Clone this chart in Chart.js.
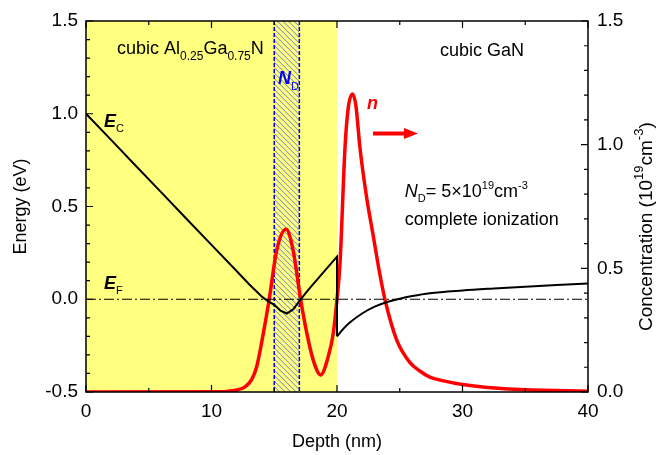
<!DOCTYPE html>
<html>
<head>
<meta charset="utf-8">
<script src="https://cdn.jsdelivr.net/npm/chart.js@4.4.1/dist/chart.umd.min.js"></script>
<style>
  html, body { margin: 0; padding: 0; background: #fff; }
  #wrap { width: 662px; height: 455px; }
</style>
</head>
<body>
<div id="wrap"><canvas id="chart"></canvas></div>
<script>
// conduction band edge E_C (eV) vs depth (nm), AlGaN side incl. the step at 20 nm
const ecDepthAlloy = [0, 2, 4, 6, 8, 10, 12, 13, 14, 14.5, 15, 15.5, 16, 16.5, 17, 17.5, 18, 19, 20, 20];
const ecEnergyAlloy = [1.0, 0.859, 0.717, 0.576, 0.434, 0.293, 0.152, 0.081, 0.015, -0.01, -0.03, -0.062, -0.077, -0.055, -0.01, 0.033, 0.074, 0.152, 0.23, -0.2];
// E_C in the GaN layer
const ecDepthGaN = [20, 20.5, 21, 22, 23, 24, 25, 26, 27.4, 30, 32.5, 35, 37.5, 40];
const ecEnergyGaN = [-0.2, -0.16, -0.127, -0.077, -0.04, -0.015, 0.003, 0.017, 0.032, 0.047, 0.058, 0.068, 0.077, 0.085];
// Fermi level
const efDepth = [0, 40];
const efEnergy = [0, 0];
// electron concentration n (1e19 cm^-3)
const nDepth = [0, 11, 11.5, 12, 12.67, 13.2, 13.6, 14.13, 14.6, 15.2, 15.94, 16.5, 17.1, 17.6, 18.1, 18.7, 19.3, 19.7, 20.0, 20.24, 20.64, 20.9, 21.24, 21.5, 21.82, 22.35, 22.9, 23.4, 23.83, 24.76, 25.8, 26.6, 27.4, 28.5, 30, 32, 35, 40];
const nConc = [0, 0.001, 0.004, 0.008, 0.021, 0.05, 0.102, 0.237, 0.375, 0.574, 0.658, 0.574, 0.375, 0.237, 0.13, 0.069, 0.143, 0.237, 0.375, 0.52, 0.99, 1.15, 1.205, 1.16, 0.992, 0.79, 0.628, 0.48, 0.372, 0.21, 0.12, 0.085, 0.06, 0.045, 0.03, 0.018, 0.009, 0.003];
// layers
const alloyRegion = [0, 20];
const donorRegion = [15, 17];
// ticks
const depthTicks = [0, 10, 20, 30, 40];
const energyTicks = [-0.5, 0.0, 0.5, 1.0, 1.5];
const concTicks = [0.0, 0.5, 1.0, 1.5];

const FONT = 'Arial, "Liberation Sans", sans-serif';
Chart.defaults.font.family = FONT;
Chart.defaults.color = '#000';

const pts = (xs, ys) => xs.map((v, i) => ({ x: v, y: ys[i] }));

// draws text made of parts (normal / sub / sup)
function richText(ctx, x, y, parts) {
    let cx = x;
    parts.forEach(p => {
        const size = p.size || 18;
        ctx.font = (p.style || '') + ' ' + size + 'px ' + FONT;
        ctx.fillStyle = p.color || '#000';
        const dy = p.shift || 0;
        ctx.fillText(p.t, cx, y + dy);
        cx += ctx.measureText(p.t).width;
    });
    return cx - x;
}

const decor = {
    id: 'decor',
    beforeDatasetsDraw(chart) {
        const { ctx, chartArea: a, scales: { x } } = chart;
        ctx.save();
        // yellow AlGaN layer
        const ax0 = x.getPixelForValue(alloyRegion[0]), ax1 = x.getPixelForValue(alloyRegion[1]);
        ctx.fillStyle = '#ffff80';
        ctx.fillRect(ax0, a.top, ax1 - ax0, a.bottom - a.top);
        // hatched donor layer
        const dx0 = x.getPixelForValue(donorRegion[0]), dx1 = x.getPixelForValue(donorRegion[1]);
        const h = a.bottom - a.top;
        ctx.save();
        ctx.beginPath();
        ctx.rect(dx0, a.top, dx1 - dx0, h);
        ctx.clip();
        ctx.strokeStyle = '#5a6fcc';
        ctx.lineWidth = 0.9;
        ctx.beginPath();
        for (let i = -h; i < dx1 - dx0 + 10; i += 5.5) {
            ctx.moveTo(dx0 + i, a.top);
            ctx.lineTo(dx0 + i + h, a.bottom);
        }
        ctx.stroke();
        ctx.restore();
        ctx.strokeStyle = '#0000ff';
        ctx.lineWidth = 1.5;
        ctx.setLineDash([4, 2]);
        ctx.beginPath();
        ctx.moveTo(dx0, a.top); ctx.lineTo(dx0, a.bottom);
        ctx.moveTo(dx1, a.top); ctx.lineTo(dx1, a.bottom);
        ctx.stroke();
        ctx.restore();
    },
    afterDatasetsDraw(chart) {
        const { ctx, chartArea: a, scales: { x, y, y2 } } = chart;
        ctx.save();
        // frame
        ctx.strokeStyle = '#000';
        ctx.lineWidth = 1.5;
        ctx.strokeRect(a.left, a.top, a.right - a.left, a.bottom - a.top);
        // inward ticks
        ctx.lineWidth = 1.2;
        ctx.beginPath();
        for (let v = 0; v <= 40; v += 5) {
            const px = x.getPixelForValue(v);
            const len = v % 10 === 0 ? 7 : 4;
            ctx.moveTo(px, a.bottom); ctx.lineTo(px, a.bottom - len);
            ctx.moveTo(px, a.top); ctx.lineTo(px, a.top + len);
        }
        for (let i = 0; i <= 20; i++) {
            const py = y.getPixelForValue(-0.5 + i * 0.1);
            const len = i % 5 === 0 ? 7 : 4;
            ctx.moveTo(a.left, py); ctx.lineTo(a.left + len, py);
        }
        for (let i = 0; i <= 15; i++) {
            const py = y2.getPixelForValue(i * 0.1);
            const len = i % 5 === 0 ? 7 : 4;
            ctx.moveTo(a.right, py); ctx.lineTo(a.right - len, py);
        }
        ctx.stroke();

        const X = v => x.getPixelForValue(v), Y = v => y.getPixelForValue(v);
        ctx.textBaseline = 'alphabetic';
        ctx.textAlign = 'left';
        richText(ctx, X(2.47), Y(1.32), [
            { t: 'cubic Al' }, { t: '0.25', size: 12, shift: 6 }, { t: 'Ga' }, { t: '0.75', size: 12, shift: 6 }, { t: 'N' }
        ]);
        richText(ctx, X(15.3), Y(1.158), [
            { t: 'N', style: 'italic bold', color: '#0000ff' }, { t: 'D', size: 11, shift: 6, color: '#0000ff' }
        ]);
        richText(ctx, X(1.43), Y(0.93), [
            { t: 'E', style: 'italic bold' }, { t: 'C', size: 11, shift: 5 }
        ]);
        richText(ctx, X(1.43), Y(0.053), [
            { t: 'E', style: 'italic bold' }, { t: 'F', size: 11, shift: 5 }
        ]);
        richText(ctx, X(22.4), Y(1.023), [{ t: 'n', style: 'italic bold', color: '#ff0000' }]);
        richText(ctx, X(28.2), Y(1.31), [{ t: 'cubic GaN' }]);
        richText(ctx, X(25.4), Y(0.549), [
            { t: 'N', style: 'italic' }, { t: 'D', size: 11, shift: 5 }, { t: '= 5\u00d710' },
            { t: '19', size: 11, shift: -8 }, { t: 'cm' }, { t: '-3', size: 11, shift: -8 }
        ]);
        richText(ctx, X(25.4), Y(0.398), [{ t: 'complete ionization' }]);

        // red arrow pointing to the right axis
        const ax0 = X(22.87), ax1 = X(26.45), ay = Y(0.894);
        ctx.strokeStyle = '#ff0000';
        ctx.fillStyle = '#ff0000';
        ctx.lineWidth = 4;
        ctx.beginPath();
        ctx.moveTo(ax0, ay); ctx.lineTo(ax1 - 10, ay);
        ctx.stroke();
        ctx.beginPath();
        ctx.moveTo(ax1, ay); ctx.lineTo(ax1 - 14, ay - 5.5); ctx.lineTo(ax1 - 14, ay + 5.5);
        ctx.closePath();
        ctx.fill();
        ctx.restore();
    },
    afterDraw(chart) {
        const { ctx } = chart;
        // right axis title, reading bottom to top, starting near y = 330
        ctx.save();
        ctx.translate(647, 331);
        ctx.rotate(-Math.PI / 2);
        ctx.textBaseline = 'middle';
        richText(ctx, 0, 0, [
            { t: 'Concentration (10', size: 19 }, { t: '19', size: 13, shift: -8 }, { t: 'cm', size: 19 },
            { t: '-3', size: 13, shift: -8 }, { t: ')', size: 19 }
        ]);
        ctx.restore();
    }
};

new Chart(document.getElementById('chart'), {
    type: 'line',
    data: {
        datasets: [
            {
                label: 'Ec AlGaN', data: pts(ecDepthAlloy, ecEnergyAlloy), yAxisID: 'y',
                borderColor: '#000', borderWidth: 2, pointRadius: 0, tension: 0
            },
            {
                label: 'Ec GaN', data: pts(ecDepthGaN, ecEnergyGaN), yAxisID: 'y',
                borderColor: '#000', borderWidth: 2, pointRadius: 0, cubicInterpolationMode: 'monotone'
            },
            {
                label: 'EF', data: pts(efDepth, efEnergy), yAxisID: 'y',
                borderColor: '#000', borderWidth: 1.2, borderDash: [10, 3, 2, 3], pointRadius: 0
            },
            {
                label: 'n', data: pts(nDepth, nConc), yAxisID: 'y2',
                borderColor: '#ff0000', borderWidth: 3.5, pointRadius: 0, cubicInterpolationMode: 'monotone'
            }
        ]
    },
    options: {
        responsive: true,
        maintainAspectRatio: false,
        animation: false,
        layout: { padding: { top: 21, left: 0, right: 0, bottom: 0 } },
        plugins: { legend: { display: false }, tooltip: { enabled: false } },
        scales: {
            x: {
                type: 'linear', position: 'bottom', min: 0, max: 40,
                afterBuildTicks: s => { s.ticks = depthTicks.map(v => ({ value: v })); },
                ticks: { font: { size: 19 }, padding: 8, maxRotation: 0 },
                grid: { display: false, drawTicks: false },
                border: { display: false },
                title: { display: true, text: 'Depth (nm)', font: { size: 18 }, padding: { top: 0, bottom: 2 } },
                afterFit: s => { s.height = 63; }
            },
            y: {
                type: 'linear', position: 'left', min: -0.5, max: 1.5,
                afterBuildTicks: s => { s.ticks = energyTicks.map(v => ({ value: v })); },
                ticks: { font: { size: 19 }, padding: 8, callback: v => v.toFixed(1) },
                grid: { display: false, drawTicks: false },
                border: { display: false },
                title: { display: true, text: 'Energy (eV)', font: { size: 18 }, padding: { top: 10, bottom: 0 } },
                afterFit: s => { s.width = 86; }
            },
            y2: {
                type: 'linear', position: 'right', min: 0, max: 1.5,
                afterBuildTicks: s => { s.ticks = concTicks.map(v => ({ value: v })); },
                ticks: { font: { size: 19 }, padding: 9, callback: v => v.toFixed(1) },
                grid: { display: false, drawTicks: false },
                border: { display: false },
                afterFit: s => { s.width = 74; }
            }
        }
    },
    plugins: [decor]
});
</script>
</body>
</html>
